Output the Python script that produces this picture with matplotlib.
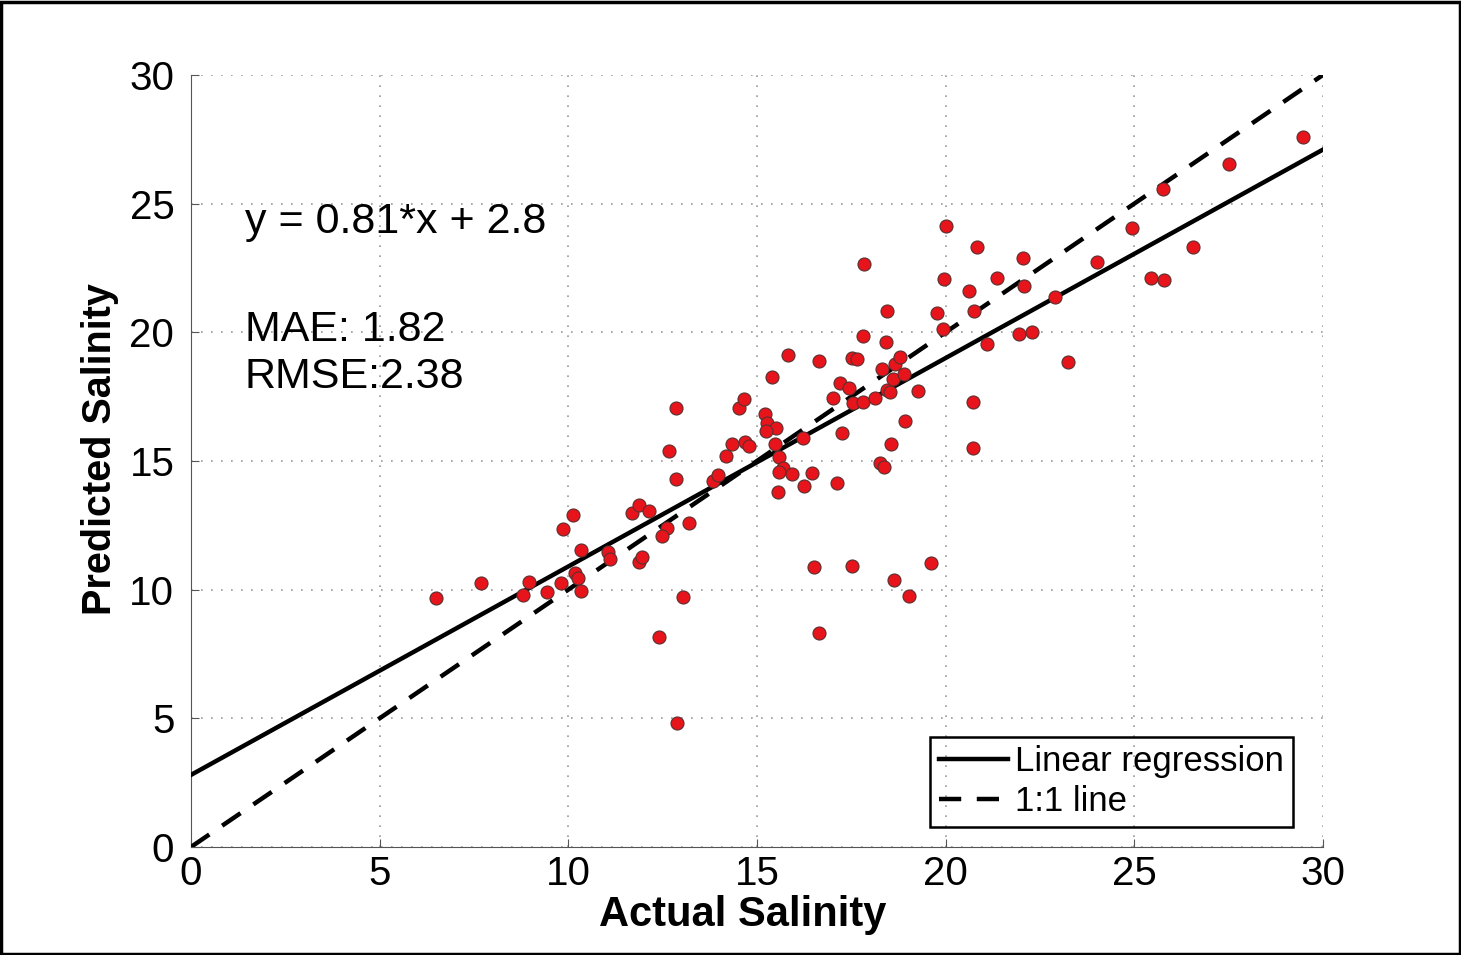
import numpy as np
import matplotlib
matplotlib.use("Agg")
import matplotlib.pyplot as plt

plt.rcParams['font.family'] = ['Liberation Sans', 'DejaVu Sans']

# actual vs predicted salinity
actual = [6.49, 7.69, 8.80, 8.96, 9.44, 9.81, 9.86, 10.12, 10.18, 10.26, 10.34, 10.34,
          11.05, 11.10, 11.69, 11.87, 12.14, 11.87, 11.95, 12.62, 12.48, 13.20,
          12.85, 12.67, 12.85, 13.04, 12.40, 12.88, 13.84, 13.97, 14.18, 14.34,
          14.52, 14.66, 14.68, 14.79, 15.21, 15.27, 15.50, 15.24, 15.48, 15.40,
          15.82, 15.58, 15.69, 15.58, 15.93, 15.56, 16.22, 16.46, 16.25, 16.64,
          16.51, 16.64, 17.12, 17.02, 17.20, 17.44, 17.25, 17.52, 17.65, 17.55,
          17.81, 17.81, 17.84, 17.52, 18.13, 18.45, 18.53, 18.31, 18.42, 18.45,
          18.26, 18.37, 18.55, 18.61, 18.66, 18.79, 18.90, 18.92, 19.27, 18.63,
          19.03, 19.61, 19.93, 19.77, 19.96, 20.01, 20.73, 20.73, 20.75, 20.62,
          20.83, 21.10, 21.36, 21.95, 22.29, 22.05, 22.08, 22.90, 23.24, 24.01,
          24.94, 25.44, 25.79, 25.76, 26.56, 27.51, 29.47]
predicted = [9.68, 10.26, 9.80, 10.30, 9.90, 10.26, 12.36, 12.90, 10.65, 10.45, 9.95, 11.54,
             11.46, 11.19, 12.98, 13.29, 13.06, 11.08, 11.27, 12.40, 12.09, 12.59,
             17.06, 15.39, 14.30, 9.72, 8.16, 4.82, 14.22, 14.46, 15.20, 15.66,
             17.06, 17.41, 15.74, 15.58, 16.83, 16.48, 16.28, 16.17, 15.66, 18.27,
             19.12, 15.16, 14.73, 14.57, 14.50, 13.80, 15.90, 14.54, 14.03, 18.89,
             10.88, 8.32, 14.15, 17.45, 18.03, 17.84, 16.09, 19.00, 18.97, 17.26,
             17.29, 19.86, 22.66, 10.92, 17.45, 17.76, 17.68, 18.58, 19.63, 20.83,
             14.92, 14.77, 15.66, 18.19, 18.77, 19.04, 18.38, 16.56, 17.72, 10.38,
             9.75, 11.04, 20.13, 20.75, 22.08, 24.13, 17.29, 15.51, 20.83, 21.61,
             23.32, 19.55, 22.11, 19.94, 20.02, 22.89, 21.80, 21.38, 18.85, 22.74,
             24.06, 22.11, 22.04, 25.57, 23.32, 26.54, 27.59]

slope = 0.81
intercept = 2.8
mae_txt = "MAE: 1.82"
rmse_txt = "RMSE:2.38"
ticks = [0, 5, 10, 15, 20, 25, 30]

fig = plt.figure(figsize=(14.61, 9.55), dpi=100)
ax = fig.add_axes([0.1307, 0.1131, 0.7748, 0.8084])

xline = np.array([0, 30])
ax.plot(xline, slope * xline + intercept, color='black', lw=3.2, label='Linear regression', zorder=3)
ax.plot(xline, xline, color='black', lw=3.2, ls=(0, (5, 3.5)), label='1:1 line', zorder=3)
ax.scatter(actual, predicted, s=88, color='#e8141b', edgecolors='#5a3030', linewidths=0.8, zorder=4)

ax.set_xlim(0, 30)
ax.set_ylim(0, 30)
ax.set_xticks(ticks)
ax.set_yticks(ticks)
ax.tick_params(direction='in', length=6, labelsize=29, color='#555555')
ax.tick_params(axis='y', pad=12)
ax.tick_params(axis='x', pad=6)
ax.grid(True, ls=(0, (1, 5)), color='#999999', lw=1.2)
for s in ['top', 'right']:
    ax.spines[s].set_visible(False)
for s in ['left', 'bottom']:
    ax.spines[s].set_color('#555555')

ax.set_xlabel('Actual Salinity', fontsize=30, fontweight='bold', va='center')
ax.set_ylabel('Predicted Salinity', fontsize=28.5, fontweight='bold', va='center')
ax.xaxis.set_label_coords(0.487, -0.088)
ax.yaxis.set_label_coords(-0.080, 0.515)

ax.text(1.42, 24.3, f"y = {slope}*x + {intercept}", fontsize=31, va='center')
ax.text(1.42, 20.1, mae_txt, fontsize=31, va='center')
ax.text(1.42, 18.25, rmse_txt, fontsize=31, va='center')

leg = ax.legend(loc='lower right', bbox_to_anchor=(0.9735, 0.026), fontsize=25,
                frameon=True, fancybox=False, facecolor='none', edgecolor='black',
                handlelength=2.0, handletextpad=0.2, borderpad=0.25, labelspacing=0.2,
                borderaxespad=0)
leg.get_frame().set_linewidth(1.8)
leg.get_frame().set_alpha(None)

# thin frame round the whole picture
fig.patches.append(plt.Rectangle((0.001, 0.001), 0.998, 0.997, transform=fig.transFigure,
                                 fill=False, edgecolor='black', lw=2.5))

plt.savefig('out.png', dpi=100)
plt.close()
